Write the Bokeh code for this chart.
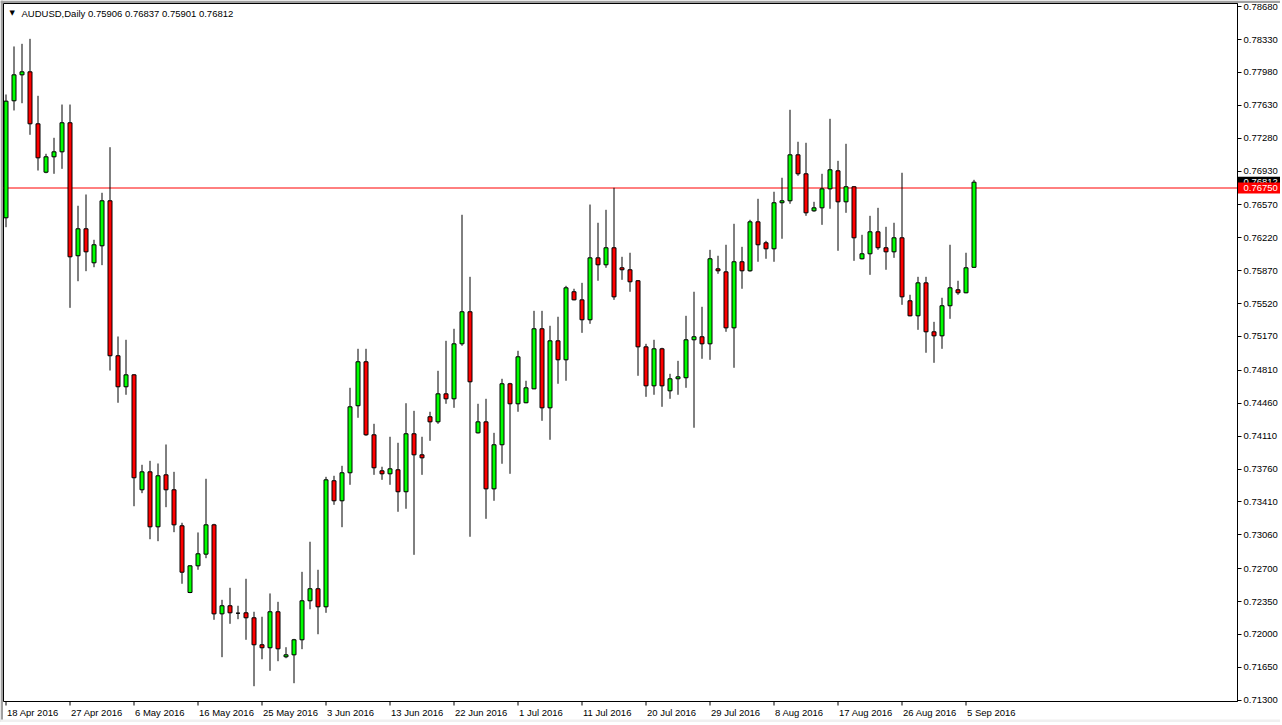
import pandas as pd
from bokeh.plotting import figure
from bokeh.models import ColumnDataSource, FixedTicker, NumeralTickFormatter, LinearAxis
from bokeh.core.properties import value
from bokeh.embed import file_html
from bokeh.resources import INLINE

# ---- data (AUDUSD daily) ----
symbol = "AUDUSD,Daily"
first_date = "2016-04-18"

opens = [
    0.76433, 0.77678, 0.77954, 0.77986, 0.77433, 0.76918, 0.77082, 0.77135, 0.77444, 0.76029,
    0.76316, 0.75954, 0.76135, 0.76614, 0.74965, 0.74635, 0.74762, 0.73539, 0.73730, 0.73145,
    0.73698, 0.73539, 0.73156, 0.72446, 0.72730, 0.72854, 0.73166, 0.72219, 0.72305, 0.72226,
    0.72230, 0.72177, 0.71890, 0.71858, 0.72241, 0.71762, 0.71783, 0.71943, 0.72358, 0.72486,
    0.72294, 0.73635, 0.73422, 0.73720, 0.74433, 0.74901, 0.74124, 0.73741, 0.73709, 0.73752,
    0.73518, 0.74135, 0.73911, 0.74316, 0.74262, 0.74560, 0.74507, 0.75092, 0.75433, 0.74145,
    0.74262, 0.73549, 0.74018, 0.74667, 0.74454, 0.74465, 0.74613, 0.75252, 0.74411, 0.75124,
    0.74922, 0.75646, 0.75560, 0.75348, 0.76007, 0.75933, 0.76114, 0.75901, 0.75880, 0.75763,
    0.75060, 0.74645, 0.75039, 0.74592, 0.74720, 0.74731, 0.75135, 0.75167, 0.75092, 0.75890,
    0.75858, 0.75262, 0.75965, 0.75869, 0.76390, 0.76167, 0.76103, 0.76593, 0.76614, 0.77103,
    0.76901, 0.76507, 0.76539, 0.76741, 0.76933, 0.76603, 0.76763, 0.75997, 0.76050, 0.76284,
    0.76114, 0.76071, 0.76220, 0.75550, 0.75390, 0.75741, 0.75220, 0.75177, 0.75497, 0.75667,
    0.75635, 0.75906,
]
highs = [
    0.77745, 0.78256, 0.78284, 0.78337, 0.77731, 0.77114, 0.77284, 0.77638, 0.77638, 0.76561,
    0.76681, 0.76199, 0.76699, 0.77184, 0.75170, 0.75135, 0.74770, 0.73805, 0.73847, 0.73819,
    0.74021, 0.73730, 0.73188, 0.72735, 0.73085, 0.73656, 0.73177, 0.72368, 0.72496, 0.72305,
    0.72592, 0.72241, 0.72188, 0.72436, 0.72347, 0.71864, 0.71953, 0.72666, 0.72986, 0.72688,
    0.73677, 0.73688, 0.73794, 0.74624, 0.75039, 0.75039, 0.74241, 0.73784, 0.74103, 0.74039,
    0.74460, 0.74379, 0.74103, 0.74369, 0.74805, 0.75124, 0.75252, 0.76465, 0.75805, 0.74454,
    0.74507, 0.74145, 0.74720, 0.74677, 0.75018, 0.74699, 0.75443, 0.75443, 0.75284, 0.75380,
    0.75709, 0.75678, 0.75741, 0.76574, 0.76380, 0.76518, 0.76752, 0.76018, 0.76061, 0.75770,
    0.75092, 0.75135, 0.75050, 0.74773, 0.74911, 0.75390, 0.75646, 0.75486, 0.76092, 0.76029,
    0.76146, 0.76369, 0.76124, 0.76412, 0.76635, 0.76188, 0.76710, 0.76859, 0.77582, 0.77242,
    0.77231, 0.76603, 0.76901, 0.77486, 0.77039, 0.77220, 0.76770, 0.76252, 0.76454, 0.76539,
    0.76337, 0.76380, 0.76912, 0.75614, 0.75805, 0.75805, 0.75326, 0.75582, 0.76146, 0.75763,
    0.76061, 0.76837,
]
lows = [
    0.76333, 0.77575, 0.77652, 0.77316, 0.76936, 0.76907, 0.76901, 0.76954, 0.75475, 0.75758,
    0.75865, 0.75907, 0.75929, 0.74808, 0.74465, 0.74550, 0.73364, 0.73503, 0.73013, 0.72992,
    0.73354, 0.73088, 0.72539, 0.72439, 0.72688, 0.72811, 0.72156, 0.71758, 0.72113, 0.72162,
    0.71943, 0.71449, 0.71736, 0.71613, 0.71715, 0.71747, 0.71481, 0.71843, 0.72268, 0.72002,
    0.72230, 0.73379, 0.73141, 0.73592, 0.74305, 0.74113, 0.73698, 0.73645, 0.73592, 0.73305,
    0.73337, 0.72847, 0.73698, 0.74060, 0.74241, 0.74454, 0.74411, 0.75071, 0.73039, 0.74138,
    0.73230, 0.73422, 0.73816, 0.73709, 0.74369, 0.74460, 0.74610, 0.74273, 0.74071, 0.74667,
    0.74699, 0.75555, 0.75209, 0.75305, 0.75763, 0.75901, 0.75560, 0.75773, 0.75646, 0.74752,
    0.74528, 0.74550, 0.74422, 0.74507, 0.74550, 0.74624, 0.74199, 0.74933, 0.74922, 0.75837,
    0.75220, 0.74837, 0.75678, 0.75860, 0.75965, 0.75997, 0.75965, 0.76210, 0.76582, 0.76880,
    0.76454, 0.76497, 0.76358, 0.76529, 0.76082, 0.76486, 0.75975, 0.75990, 0.75826, 0.76092,
    0.75880, 0.76007, 0.75507, 0.75385, 0.75241, 0.74997, 0.74890, 0.75039, 0.75358, 0.75614,
    0.75630, 0.75901,
]
closes = [
    0.77674, 0.77954, 0.77986, 0.77433, 0.77071, 0.77082, 0.77135, 0.77444, 0.76018, 0.76316,
    0.76071, 0.76146, 0.76614, 0.74965, 0.74635, 0.74762, 0.73667, 0.73730, 0.73145, 0.73688,
    0.73539, 0.73166, 0.72662, 0.72730, 0.72858, 0.73166, 0.72219, 0.72305, 0.72230, 0.72226,
    0.72177, 0.71890, 0.71858, 0.72241, 0.71847, 0.71783, 0.71943, 0.72358, 0.72486, 0.72294,
    0.73645, 0.73422, 0.73720, 0.74422, 0.74901, 0.74124, 0.73773, 0.73709, 0.73762, 0.73518,
    0.74135, 0.73911, 0.73879, 0.74262, 0.74560, 0.74507, 0.75092, 0.75433, 0.74688, 0.74262,
    0.73549, 0.74018, 0.74667, 0.74454, 0.74954, 0.74624, 0.75252, 0.74411, 0.75124, 0.74922,
    0.75688, 0.75560, 0.75348, 0.76007, 0.75933, 0.76114, 0.75592, 0.75880, 0.75752, 0.75060,
    0.74645, 0.75039, 0.74645, 0.74720, 0.74741, 0.75135, 0.75167, 0.75092, 0.75997, 0.75869,
    0.75262, 0.75965, 0.75869, 0.76390, 0.76146, 0.76103, 0.76593, 0.76614, 0.77103, 0.76901,
    0.76486, 0.76539, 0.76741, 0.76944, 0.76603, 0.76763, 0.76220, 0.76050, 0.76284, 0.76114,
    0.76071, 0.76220, 0.75592, 0.75390, 0.75741, 0.75220, 0.75177, 0.75497, 0.75688, 0.75635,
    0.75901, 0.76812,
]
price_ticks = [0.78680, 0.78330, 0.77980, 0.77630, 0.77280, 0.76930, 0.76570, 0.76220,
               0.75870, 0.75520, 0.75170, 0.74810, 0.74460, 0.74110, 0.73760, 0.73410,
               0.73060, 0.72700, 0.72350, 0.72000, 0.71650, 0.71300]
level_line = 0.76750
date_label_every = 8

# ---- layout (pixels) ----
W, H = 1280, 722
BAR_PX = 8.0
BAR0_PX = 5.5            # centre of first bar
PRICE_PER_PX = 0.0001064
PRICE_AT_TOP = 0.78745   # price at pixel row 0
DATA_L, DATA_R, DATA_T, DATA_B = 3, 1237, 3, 701

def xd(px):
    return (px - BAR0_PX) / BAR_PX

def yd(py):
    return PRICE_AT_TOP - py * PRICE_PER_PX

FONT = "Liberation Sans"
FS = "9.5px"

# ---- derived ----
n = len(opens)
dates = pd.bdate_range(first_date, periods=n, freq="C", weekmask="Sun Mon Tue Wed Thu Fri")
idx = list(range(n))
tops = [max(o, c) for o, c in zip(opens, closes)]
bottoms = [min(o, c) for o, c in zip(opens, closes)]
colors = ["#00FF00" if c > o else "#FF0000" for o, c in zip(opens, closes)]
src = ColumnDataSource(dict(x=idx, high=highs, low=lows, top=tops, bottom=bottoms, color=colors))

p = figure(width=W, height=H, output_backend="svg", toolbar_location=None,
           x_range=(xd(0), xd(W)), y_range=(yd(H), yd(0)),
           x_axis_location=None, y_axis_location=None,
           min_border_left=0, min_border_top=0, min_border_bottom=0, min_border_right=0)
p.background_fill_color = "white"
p.border_fill_color = "white"
p.outline_line_color = None
p.grid.visible = False

# window edges
p.quad(left=[xd(0)], right=[xd(DATA_L - 0.5)], bottom=[yd(H)], top=[yd(0)],
       fill_color="#A0A0A0", line_color=None)
p.quad(left=[xd(0)], right=[xd(W)], bottom=[yd(DATA_T - 0.5)], top=[yd(0)],
       fill_color="#A0A0A0", line_color=None)
p.quad(left=[xd(0)], right=[xd(W)], bottom=[yd(H)], top=[yd(719)],
       fill_color="#F0F0F0", line_color=None)

# data-area border
p.quad(left=[xd(DATA_L)], right=[xd(DATA_R)], bottom=[yd(DATA_B)], top=[yd(DATA_T)],
       fill_color=None, line_color="black", line_width=1)

# level line
p.segment(x0=[xd(DATA_L)], x1=[xd(DATA_R)], y0=[level_line], y1=[level_line],
          line_color="#FF0000", line_width=1)

# candles
p.segment(x0="x", y0="low", x1="x", y1="high", source=src, line_color="black", line_width=1)
p.vbar(x="x", width=0.5, top="top", bottom="bottom", source=src,
       fill_color="color", line_color="black", line_width=1)

# price scale (axis fixed at the right edge of the data area)
ya = LinearAxis(fixed_location=xd(DATA_R), bounds=(yd(DATA_B), yd(DATA_T)))
ya.ticker = FixedTicker(ticks=price_ticks)
ya.formatter = NumeralTickFormatter(format="0.00000")
ya.major_tick_out = 4
ya.major_tick_in = 0
ya.minor_tick_out = 0
ya.minor_tick_in = 0
ya.major_label_standoff = 2
ya.axis_line_color = "black"
ya.major_tick_line_color = "black"
ya.major_label_text_font = FONT
ya.major_label_text_font_size = FS
ya.major_label_text_color = "black"
p.add_layout(ya, "right")

# price boxes on the scale
box_h = 5.5 * PRICE_PER_PX
for price, fill in ((closes[-1], "black"), (level_line, "#FF0000")):
    p.quad(left=[xd(DATA_R)], right=[xd(W)], bottom=[price - box_h], top=[price + box_h],
           fill_color=fill, line_color=None)
    p.text(x=[xd(DATA_R + 6)], y=[price], text=[f"{price:.5f}"], text_color="white",
           text_font=value(FONT), text_font_size=FS, text_baseline="middle", text_align="left")

# date scale
tick_idx = idx[::date_label_every]
date_labels = [f"{dates[i].day} {dates[i].strftime('%b %Y')}" for i in tick_idx]
p.segment(x0=tick_idx, x1=tick_idx, y0=[yd(DATA_B)] * len(tick_idx),
          y1=[yd(DATA_B + 4)] * len(tick_idx), line_color="black", line_width=1)
p.text(x=[i + xd(1) - xd(0) for i in tick_idx], y=[yd(712)] * len(tick_idx), text=date_labels,
       text_color="black", text_font=value(FONT), text_font_size=FS,
       text_baseline="middle", text_align="left")

# header
title = f"{symbol}  {opens[-1]:.5f} {highs[-1]:.5f} {lows[-1]:.5f} {closes[-1]:.5f}"
p.text(x=[xd(11.7)], y=[yd(12.5)], text=["\u25BC"], text_color="black",
       text_font=value("DejaVu Sans"), text_font_size="7px",
       text_baseline="middle", text_align="center")
p.text(x=[xd(21)], y=[yd(12.5)], text=[title], text_color="black",
       text_font=value(FONT), text_font_size=FS, text_baseline="middle", text_align="left")

open("out.html", "w").write(file_html(p, INLINE))
